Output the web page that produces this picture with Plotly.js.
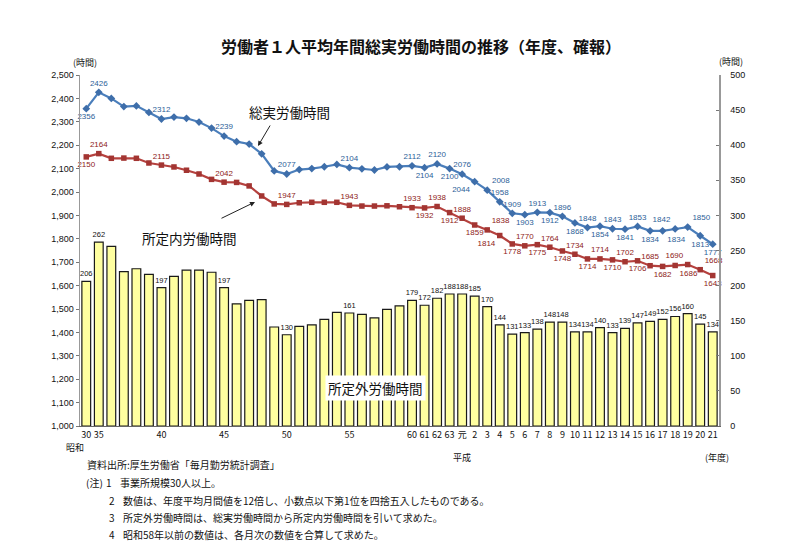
<!DOCTYPE html>
<html><head><meta charset="utf-8">
<script src="https://cdn.plot.ly/plotly-3.0.1.min.js"></script>
<style>html,body{margin:0;padding:0;background:#fff}#chart{width:800px;height:553px}</style>
</head><body><div id="chart"></div>
<script>
// 年度 (昭和30, 昭和35〜63, 平成元〜21)
const categories = ['S30','S35','S36','S37','S38','S39','S40','S41','S42','S43','S44','S45','S46','S47','S48','S49','S50','S51','S52','S53','S54','S55','S56','S57','S58','S59','S60','S61','S62','S63',
  'H1','H2','H3','H4','H5','H6','H7','H8','H9','H10','H11','H12','H13','H14','H15','H16','H17','H18','H19','H20','H21'];
const tickLabels = ['30','35','','','','','40','','','','','45','','','','','50','','','','','55','','','','','60','61','62','63',
  '元','2','3','4','5','6','7','8','9','10','11','12','13','14','15','16','17','18','19','20','21'];

// 総実労働時間
const totalHours = [2356,2426,2400,2365,2368,2340,2312,2320,2315,2299,2273,2239,2215,2205,2163,2090,2077,2096,2100,2108,2118,2104,2099,2094,2107,2108,2112,2104,2120,2100,
  2076,2044,2008,1958,1909,1903,1913,1912,1896,1868,1848,1854,1843,1841,1853,1834,1834,1842,1850,1813,1777];
// 所定内労働時間
const scheduledHours = [2150,2164,2144,2145,2144,2124,2115,2107,2093,2077,2054,2042,2041,2026,1983,1949,1947,1954,1956,1956,1956,1943,1940,1940,1941,1937,1933,1932,1938,1912,
  1888,1859,1838,1814,1778,1770,1775,1764,1748,1734,1714,1714,1710,1702,1706,1685,1682,1686,1690,1668,1643];
// 所定外労働時間
const overtimeHours = [206,262,256,220,224,216,197,213,222,222,219,197,174,179,180,141,130,142,144,152,162,161,159,154,166,171,179,172,182,188,
  188,185,170,144,131,133,138,148,148,134,134,140,133,139,147,149,152,156,160,145,134];

// which points carry a value label
const totalLabelIdx = [0,1,6,11,16,21,26,27,28,29,30,31,32,33,34,35,36,37,38,39,40,41,42,43,44,45,46,47,48,49,50];
const scheduledLabelIdx = totalLabelIdx;
const overtimeLabelIdx = [0,1,6,11,16,21,26,27,28,29,30,31,32,33,34,35,36,37,38,39,40,41,42,43,44,45,46,47,48,49,50];

// label side: 't' above, 'b' below, 'tr'/'br' above/below right, 'tl'/'bl' above/below left
const totalSide = {0:'b',1:'t',6:'t',11:'t',16:'t',21:'t',26:'t',27:'b',28:'t',29:'b',30:'t',31:'bl',32:'tr',33:'t',34:'t',35:'b',36:'t',37:'b',38:'t',39:'b',40:'t',41:'b',42:'t',43:'b',44:'t',45:'b',46:'br',47:'tl',48:'tr',49:'b',50:'b'};
const scheduledSide = {0:'b',1:'t',6:'t',11:'t',16:'t',21:'t',26:'t',27:'b',28:'t',29:'b',30:'t',31:'b',32:'tr',33:'bl',34:'b',35:'t',36:'b',37:'t',38:'b',39:'t',40:'b',41:'t',42:'b',43:'t',44:'b',45:'t',46:'b',47:'br',48:'tl',49:'tr',50:'b'};
const posName = {t:'top center', b:'bottom center', tr:'top right', br:'bottom right', tl:'top left', bl:'bottom left'};

function labels(vals, idx){ return vals.map((v,i)=> idx.includes(i) ? String(v) : ''); }
function positions(vals, side){ return vals.map((v,i)=> posName[side[i] || 't']); }

const tickvals = categories.filter((c,i)=>tickLabels[i]!=='');
const ticktext = tickLabels.filter(t=>t!=='');

const JP = '"Noto Sans CJK JP", "Noto Sans", sans-serif';
const NUM = '"Liberation Sans", Arial, sans-serif';

const traces = [
  {
    type:'bar', x:categories, y:overtimeHours, yaxis:'y', name:'所定外労働時間',
    marker:{color:'#FFFFA0', line:{color:'#1a1a1a', width:1.2}},
    text: labels(overtimeHours, overtimeLabelIdx), textposition:'outside', cliponaxis:false, constraintext:'none',
    textfont:{family:NUM, size:7.5, color:'#111'}, hoverinfo:'x+y'
  },
  {
    type:'scatter', mode:'lines+markers+text', x:categories, y:totalHours, yaxis:'y2', name:'総実労働時間',
    line:{color:'#4A7EBB', width:2.2}, marker:{symbol:'diamond', size:6, color:'#3E6EAA'},
    text: labels(totalHours, totalLabelIdx), textposition: positions(totalHours, totalSide),
    textfont:{family:NUM, size:8, color:'#2D6198'}, cliponaxis:false
  },
  {
    type:'scatter', mode:'lines+markers+text', x:categories, y:scheduledHours, yaxis:'y2', name:'所定内労働時間',
    line:{color:'#B5413E', width:2.2}, marker:{symbol:'square', size:5.5, color:'#A33532'},
    text: labels(scheduledHours, scheduledLabelIdx), textposition: positions(scheduledHours, scheduledSide),
    textfont:{family:NUM, size:8, color:'#8E2220'}, cliponaxis:false
  }
];

const L = 80, R = 719, T = 75, B = 426;
function px(x){ return (x-L)/(R-L); }
function py(y){ return (B-y)/(B-T); }

function txt(x,y,text,size,opt){
  return Object.assign({xref:'paper', yref:'paper', x:px(x), y:py(y), text:text, showarrow:false,
    font:{family:JP, size:size, color:'#111'}, xanchor:'center', yanchor:'middle'}, opt||{});
}
function arrow(hx,hy,tx,ty){
  return {xref:'paper', yref:'paper', x:px(hx), y:py(hy), ax:tx-hx, ay:ty-hy, text:'', showarrow:true,
    arrowhead:2, arrowsize:1, arrowwidth:1, arrowcolor:'#222'};
}

const annotations = [
  txt(85,63,'(時間)',9),
  txt(731,61,'(時間)',9),
  txt(75,447,'昭和',9),
  txt(462,457,'平成',9),
  txt(717,457,'(年度)',9),
  txt(289,112,'総実労働時間',13.5),
  txt(189,238,'所定内労働時間',13.5),
  txt(375,388,'所定外労働時間',13.5,{bgcolor:'#ffffff', borderpad:2}),
  arrow(258,146,271,124),
  arrow(255,202,220,219),
  txt(85,464,'資料出所:厚生労働省「毎月勤労統計調査」',10,{xanchor:'left'}),
  txt(84,482,'(注)',10,{xanchor:'left'}),
  txt(104,482,'1',10,{xanchor:'left'}),
  txt(118,482,'事業所規模30人以上。',10,{xanchor:'left'}),
  txt(107,500,'2',10,{xanchor:'left'}),
  txt(121,500,'数値は、年度平均月間値を12倍し、小数点以下第1位を四捨五入したものである。',10,{xanchor:'left'}),
  txt(107,517,'3',10,{xanchor:'left'}),
  txt(121,517,'所定外労働時間は、総実労働時間から所定内労働時間を引いて求めた。',10,{xanchor:'left'}),
  txt(107,534,'4',10,{xanchor:'left'}),
  txt(121,534,'昭和58年以前の数値は、各月次の数値を合算して求めた。',10,{xanchor:'left'})
];

const layout = {
  width:800, height:553,
  margin:{l:L, r:800-R, t:T, b:553-B},
  paper_bgcolor:'#ffffff', plot_bgcolor:'#ffffff',
  showlegend:false,
  title:{text:'<b>労働者１人平均年間総実労働時間の推移（年度、確報）</b>', x:421/800, xref:'container', xanchor:'center',
    y:1-47/553, yref:'container', yanchor:'middle', font:{family:JP, size:16, color:'#111'}},
  bargap:0.3,
  xaxis:{type:'category', tickmode:'array', tickvals:tickvals, ticktext:ticktext, ticks:'',
    showline:true, linecolor:'#666', linewidth:1, showgrid:false, zeroline:false,
    tickfont:{family:JP, size:9, color:'#111'}, range:[-0.5, categories.length-0.5]},
  yaxis:{side:'right', range:[0,500], dtick:50, tickmode:'linear', tick0:0, showline:true, linecolor:'#999', linewidth:1.5,
    ticks:'inside', ticklen:3, tickcolor:'#777', showgrid:false, zeroline:false, ticklabelstandoff:8,
    tickfont:{family:NUM, size:9, color:'#111'}},
  yaxis2:{overlaying:'y', side:'left', range:[1000,2500], dtick:100, tickmode:'linear', tick0:1000, tickformat:',d',
    showline:true, linecolor:'#999', linewidth:1.5, ticks:'outside', ticklen:3, tickcolor:'#777', showgrid:false, zeroline:false,
    tickfont:{family:NUM, size:9, color:'#111'}},
  annotations:annotations
};

Plotly.newPlot('chart', traces, layout, {displayModeBar:false, staticPlot:true});
</script>
</body></html>
